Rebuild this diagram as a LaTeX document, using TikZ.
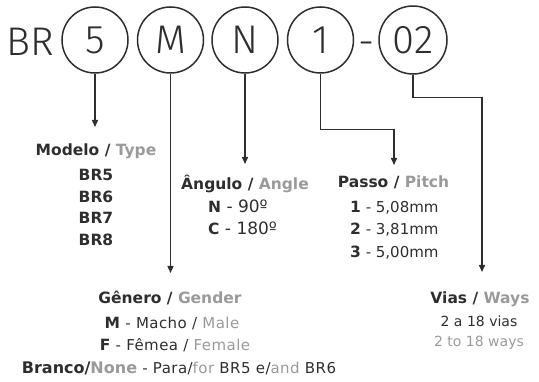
\documentclass[tikz,border=0pt]{standalone}
\usepackage{fontspec}
\setmainfont{DejaVu Sans}
\newfontfamily\thinfont{Fira Sans Light}
\newfontfamily\spacedfont[LetterSpace=3]{DejaVu Sans}
\usetikzlibrary{arrows.meta}
\definecolor{ink}{HTML}{2E2E2E}
\definecolor{soft}{HTML}{9A9A9A}
\begin{document}
\begin{tikzpicture}[x=1pt,y=-1pt,
  circ/.style={circle, draw=ink, line width=1.5pt, minimum size=66pt, inner sep=0pt,
    font=\thinfont\fontsize{40}{40}\selectfont, text=ink},
  bigtext/.style={inner sep=0pt, anchor=base, font=\thinfont\fontsize{40}{40}\selectfont, text=ink},
  conn/.style={draw=ink, line width=1.5pt},
  arr/.style={conn, -{Triangle[length=7pt,width=6pt]}},
  head/.style={anchor=base, inner sep=0pt, text=ink, font=\bfseries\fontsize{15.5}{18}\selectfont},
  angitem/.style={anchor=base west, inner sep=0pt, text=ink, font=\fontsize{17}{18}\selectfont},
  item/.style={anchor=base west, inner sep=0pt, text=ink, font=\fontsize{15}{18}\selectfont},
  genitem/.style={anchor=base, inner sep=0pt, text=ink, font=\spacedfont\fontsize{15}{16}\selectfont},
  smallitem/.style={anchor=base, inner sep=0pt, text=ink, font=\fontsize{14}{16}\selectfont}]
\newcommand{\keyb}[1]{{\normalfont\bfseries\fontsize{15.5}{18}\selectfont #1}}
\useasboundingbox (0,0) rectangle (539,382);
% code circles
\node[circ] (c5) at (95,40) {5};
\node[circ] (cM) at (170.5,40) {M};
\node[circ] (cN) at (245,40) {N};
\node[circ] (c1) at (320.5,40) {1};
\node[circ, minimum size=68pt] (c02) at (413,40) {02};
\node[bigtext, anchor=base east] (br) at (54,56) {BR};
\node[bigtext] (dash) at (367,56) {-};
% arrow tips
\coordinate (t5) at (95,127);
\coordinate (tM) at (170.5,273);
\coordinate (tN) at (245,164);
\coordinate (t1) at (394,165);
\coordinate (t02) at (482,272);
\draw[arr] (c5.south) -- (t5);
\draw[arr] (cM.south) -- (tM);
\draw[arr] (cN.south) -- (tN);
\draw[arr] (c1.south) -- ++(0,56) -| (t1);
\draw[arr] (c02.south) -- ++(0,23) -| (t02);
% Modelo
\node[head] (modelo) at (96,155.5) {Modelo / \textcolor{soft}{Type}};
\node[head] (br5) at (96,181) {BR5};
\node[head] (br6) at (96,203) {BR6};
\node[head] (br7) at (96,224) {BR7};
\node[head] (br8) at (96,246) {BR8};
% Angulo
\node[head] (angulo) at (245,190) {Ângulo / \textcolor{soft}{Angle}};
\node[angitem] (angN) at (208,213) {\keyb{N} - 90º};
\node[angitem] (angC) at (208,235) {\keyb{C} - 180º};
% Passo
\node[head] (passo) at (393.5,188) {Passo / \textcolor{soft}{Pitch}};
\node[item] (p1) at (350,213) {\keyb{1} - 5,08mm};
\node[item] (p2) at (350,235) {\keyb{2} - 3,81mm};
\node[item] (p3) at (350,258) {\keyb{3} - 5,00mm};
% Genero
\node[head] (genero) at (170,304) {Gênero / \textcolor{soft}{Gender}};
\node[genitem] (gM) at (172,329) {\keyb{M} - Macho / \textcolor{soft}{Male}};
\node[genitem] (gF) at (175,351) {\keyb{F} - Fêmea / \textcolor{soft}{Female}};
\node[genitem] (gB) at (179,374) {{\normalfont\bfseries\fontsize{16}{18}\selectfont Branco/\textcolor{soft}{None}} - Para/\textcolor{soft}{for} BR5 e/\textcolor{soft}{and} BR6};
% Vias
\node[head] (vias) at (480,304) {Vias / \textcolor{soft}{Ways}};
\node[smallitem] (v1) at (479,327) {2 a 18 vias};
\node[smallitem, text=soft] (v2) at (479,347) {2 to 18 ways};
\end{tikzpicture}
\end{document}
